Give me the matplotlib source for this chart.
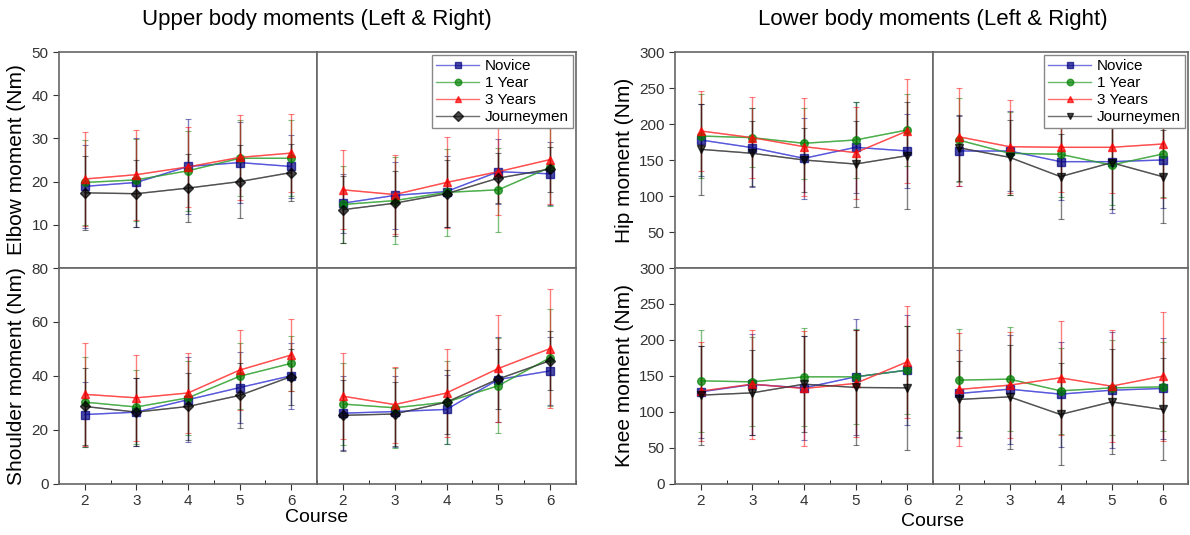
import matplotlib
matplotlib.use('Agg')
import matplotlib.pyplot as plt
from matplotlib.ticker import MultipleLocator

plt.rcParams['font.family'] = ['Liberation Sans', 'DejaVu Sans']

course = [2, 3, 4, 5, 6]
groups = ['Novice', '1 Year', '3 Years', 'Journeymen']
line_colors = ['#3b3bd6', '#2ca02c', '#ff3030', '#333333']
marker_colors = ['#000080', '#008000', '#ff0000', '#000000']

# mean values, order: Novice, 1 Year, 3 Years, Journeymen
elbow_l = [[18.9, 19.8, 23.5, 24.4, 23.5],
           [19.8, 20.4, 22.5, 25.4, 25.4],
           [20.6, 21.6, 23.4, 25.6, 26.6],
           [17.4, 17.2, 18.5, 20.0, 22.1]]
elbow_l_sd = [[9.6, 10.3, 11.1, 9.4, 7.2],
              [9.9, 9.5, 9.2, 8.8, 8.8],
              [10.8, 10.4, 9.2, 9.8, 9.1],
              [8.6, 7.7, 7.9, 8.5, 6.6]]
elbow_r = [[15.0, 16.8, 17.7, 22.3, 21.8],
           [14.7, 15.6, 17.5, 18.1, 23.3],
           [18.1, 17.0, 19.8, 22.3, 25.1],
           [13.5, 15.0, 17.2, 20.8, 22.9]]
elbow_r_sd = [[6.8, 7.7, 8.3, 7.6, 7.3],
              [8.8, 10.1, 10.0, 9.7, 9.0],
              [9.1, 9.2, 10.6, 10.1, 10.3],
              [7.7, 7.5, 7.7, 5.8, 5.2]]
shoulder_l = [[25.6, 26.5, 31.1, 35.6, 40.0],
              [30.2, 28.4, 31.8, 39.8, 44.6],
              [33.1, 31.8, 33.6, 42.1, 47.7],
              [28.6, 26.5, 28.6, 32.7, 39.7]]
shoulder_l_sd = [[12.0, 12.7, 15.7, 13.3, 12.3],
                 [16.6, 13.7, 13.8, 12.2, 10.2],
                 [19.2, 15.9, 15.0, 14.9, 13.5],
                 [14.3, 12.5, 12.4, 12.0, 10.4]]
shoulder_r = [[26.1, 26.7, 27.5, 38.6, 41.8],
              [29.5, 28.1, 30.2, 36.3, 46.7],
              [32.4, 29.3, 33.6, 42.7, 50.1],
              [25.3, 25.8, 30.2, 38.8, 45.6]]
shoulder_r_sd = [[13.7, 13.3, 12.8, 15.7, 12.6],
                 [15.1, 14.9, 15.4, 17.6, 17.9],
                 [16.0, 14.1, 16.5, 19.8, 22.2],
                 [13.1, 11.8, 12.0, 11.3, 11.0]]
hip_l = [[177.8, 167.1, 152.3, 167.6, 162.5],
         [183.3, 181.0, 173.2, 177.8, 191.7],
         [190.3, 181.0, 168.5, 160.2, 190.3],
         [164.8, 159.3, 150.0, 144.4, 156.0]]
hip_l_sd = [[50, 55, 56, 63, 52],
            [58, 41, 49, 53, 50],
            [55, 56, 68, 64, 72],
            [63, 45, 45, 60, 74]]
hip_r = [[162.5, 162.5, 147.7, 147.7, 150.0],
         [177.8, 159.3, 157.9, 143.0, 158.3],
         [182.4, 168.5, 167.6, 167.6, 172.2],
         [167.1, 153.7, 126.9, 146.3, 126.9]]
hip_r_sd = [[48, 55, 53, 71, 67],
            [58, 58, 59, 56, 60],
            [68, 65, 62, 63, 75],
            [46, 52, 59, 65, 65]]
knee_l = [[127.6, 137.9, 133.1, 148.5, 157.8],
          [142.9, 141.5, 148.5, 148.5, 157.8],
          [128.6, 138.3, 132.3, 139.3, 169.4],
          [123.0, 126.2, 138.3, 133.7, 133.1]]
knee_l_sd = [[64, 70, 72, 81, 77],
             [71, 62, 68, 66, 61],
             [69, 76, 80, 74, 78],
             [69, 59, 67, 80, 86]]
knee_r = [[125.3, 131.3, 124.4, 129.9, 132.3],
          [143.9, 145.3, 129.0, 133.1, 134.5],
          [130.9, 136.9, 147.1, 135.5, 149.4],
          [117.0, 120.6, 96.1, 113.6, 103.1]]
knee_r_sd = [[61, 76, 73, 81, 70],
             [71, 72, 60, 66, 62],
             [78, 74, 79, 78, 90],
             [54, 72, 71, 73, 71]]

W, H = 1190, 535
fig = plt.figure(figsize=(W / 100, H / 100), dpi=100)

def box(x0, y0, x1, y1):
    return [x0 / W, 1 - y1 / H, (x1 - x0) / W, (y1 - y0) / H]

def panel(rect, means, sds, last_marker, ylim, yticks, left, bottom, legend=False):
    ax = fig.add_axes(rect)
    markers = ['s', 'o', '^', last_marker]
    for i in range(4):
        ax.errorbar(course, means[i], yerr=sds[i], color=line_colors[i], ecolor=marker_colors[i],
                    elinewidth=1.0, capsize=2, capthick=0.8, lw=1.0, alpha=0.5, zorder=2 + i)
        ax.plot(course, means[i], marker=markers[i], color=line_colors[i], alpha=0.7, lw=1.0,
                mfc=marker_colors[i], mec=marker_colors[i], ms=5.5, label=groups[i], zorder=6 + i)
    ax.set_xlim(1.5, 6.5)
    ax.set_ylim(*ylim)
    ax.set_yticks(yticks)
    ax.set_xticks(course)
    ax.xaxis.set_minor_locator(MultipleLocator(0.5))
    ax.tick_params(axis='both', labelsize=11, colors='#333333', direction='out', length=4)
    ax.tick_params(axis='x', which='minor', direction='in', length=3, top=False)
    for s in ax.spines.values():
        s.set_color('#666666')
        s.set_linewidth(1.2)
    if not left:
        ax.tick_params(axis='y', left=False, labelleft=False)
    if not bottom:
        ax.tick_params(axis='x', which='both', bottom=False, labelbottom=False)
    if legend:
        leg = ax.legend(loc='upper right', fontsize=11, fancybox=False, framealpha=1,
                        edgecolor='#888888', handlelength=2.8, borderpad=0.25,
                        labelspacing=0.2, borderaxespad=0.2, handletextpad=0.4, markerscale=0.85)
        leg.get_frame().set_linewidth(1.0)
    return ax

# upper body block
lx0, lxm, lx1 = 59, 317, 576
ty0, tym, ty1 = 52, 268, 483.5
a = panel(box(lx0, ty0, lxm, tym), elbow_l, elbow_l_sd, 'D', (0, 50), [10, 20, 30, 40, 50], True, False)
a.set_ylabel('Elbow moment (Nm)', fontsize=15)
panel(box(lxm, ty0, lx1, tym), elbow_r, elbow_r_sd, 'D', (0, 50), [10, 20, 30, 40, 50], False, False, legend=True)
a = panel(box(lx0, tym, lxm, ty1), shoulder_l, shoulder_l_sd, 'D', (0, 80), [0, 20, 40, 60, 80], True, True)
a.set_ylabel('Shoulder moment (Nm)', fontsize=15)
panel(box(lxm, tym, lx1, ty1), shoulder_r, shoulder_r_sd, 'D', (0, 80), [0, 20, 40, 60, 80], False, True)

# lower body block
rx0, rxm, rx1 = 675, 933, 1188
a = panel(box(rx0, ty0, rxm, tym), hip_l, hip_l_sd, 'v', (0, 300), [50, 100, 150, 200, 250, 300], True, False)
a.set_ylabel('Hip moment (Nm)', fontsize=15)
panel(box(rxm, ty0, rx1, tym), hip_r, hip_r_sd, 'v', (0, 300), [50, 100, 150, 200, 250, 300], False, False, legend=True)
a = panel(box(rx0, tym, rxm, ty1), knee_l, knee_l_sd, 'v', (0, 300), [0, 50, 100, 150, 200, 250, 300], True, True)
a.set_ylabel('Knee moment (Nm)', fontsize=15)
panel(box(rxm, tym, rx1, ty1), knee_r, knee_r_sd, 'v', (0, 300), [0, 50, 100, 150, 200, 250, 300], False, True)

fig.text(lxm / W, 1 - 20 / H, 'Upper body moments (Left & Right)', ha='center', va='center', fontsize=16)
fig.text(rxm / W, 1 - 20 / H, 'Lower body moments (Left & Right)', ha='center', va='center', fontsize=16)
fig.text(lxm / W, 1 - 518 / H, 'Course', ha='center', va='center', fontsize=14)
fig.text(rxm / W, 1 - 522 / H, 'Course', ha='center', va='center', fontsize=14)

fig.savefig('out.png', dpi=100)
